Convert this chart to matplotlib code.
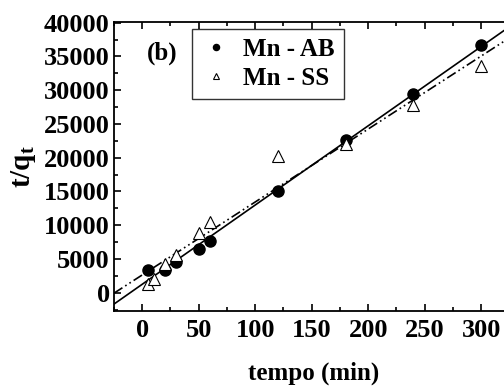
import numpy as np
import matplotlib.pyplot as plt
from matplotlib.ticker import MultipleLocator

plt.rcParams['font.family'] = ['Liberation Serif', 'DejaVu Serif']
plt.rcParams['font.weight'] = 'bold'
plt.rcParams['mathtext.fontset'] = 'custom'
plt.rcParams['mathtext.rm'] = 'Liberation Serif:bold'
plt.rcParams['mathtext.it'] = 'Liberation Serif:bold'

t_ab = [5, 20, 30, 50, 60, 120, 180, 240, 300]
y_ab = [3400, 3300, 4600, 6500, 7700, 15100, 22600, 29400, 36700]
t_ss = [5, 10, 20, 30, 50, 60, 120, 180, 240, 300]
y_ss = [1300, 2000, 4200, 5600, 8800, 10500, 20200, 22100, 27800, 33600]

fig = plt.figure(figsize=(5.04, 3.86), dpi=100)
ax = fig.add_axes([114/504, 75/386, 400/504, 289/386])

xx = np.array([-25, 335])
p_ab = np.polyfit(t_ab, y_ab, 1)
p_ss = np.polyfit(t_ss, y_ss, 1)
ax.plot(xx, np.polyval(p_ab, xx), '-', color='black', lw=1.2)
ax.plot(xx, np.polyval(p_ss, xx), color='black', lw=1.2, ls=(0, (6, 2, 1, 2, 1, 2)))

ax.plot(t_ab, y_ab, 'o', color='black', ms=8, ls='none', label='Mn - AB')
ax.plot(t_ss, y_ss, '^', mfc='white', mec='black', ms=9, mew=0.8, ls='none', label='Mn - SS')

ax.set_xlim(-25, 329)
ax.set_ylim(-2700, 40100)
ax.xaxis.set_major_locator(MultipleLocator(50))
ax.xaxis.set_minor_locator(MultipleLocator(25))
ax.yaxis.set_major_locator(MultipleLocator(5000))
ax.yaxis.set_minor_locator(MultipleLocator(2500))
ax.tick_params(which='both', direction='out', labelsize=19, width=1.2, pad=3)
ax.tick_params(which='major', length=5)
ax.tick_params(which='minor', length=3)
ax.tick_params(top=True, which='both', direction='in')
ax.tick_params(axis='x', pad=6)
for s in ax.spines.values():
    s.set_linewidth(1.3)

ax.set_xlabel('tempo (min)', fontsize=18, fontweight='bold', labelpad=14)
ax.set_ylabel(r'$\mathregular{t/q_t}$', fontsize=21, fontweight='bold', labelpad=4)

ax.text(0.083, 0.87, '(b)', transform=ax.transAxes, fontsize=18, fontweight='bold')
leg = ax.legend(loc='upper left', bbox_to_anchor=(0.195, 0.976), borderaxespad=0,
                fontsize=18, frameon=True, fancybox=False, edgecolor='black',
                handletextpad=0.5, borderpad=0.35, labelspacing=0.25,
                markerscale=0.55, handlelength=1.2)
leg.get_frame().set_linewidth(1.0)

fig.savefig('out.png', dpi=100)
